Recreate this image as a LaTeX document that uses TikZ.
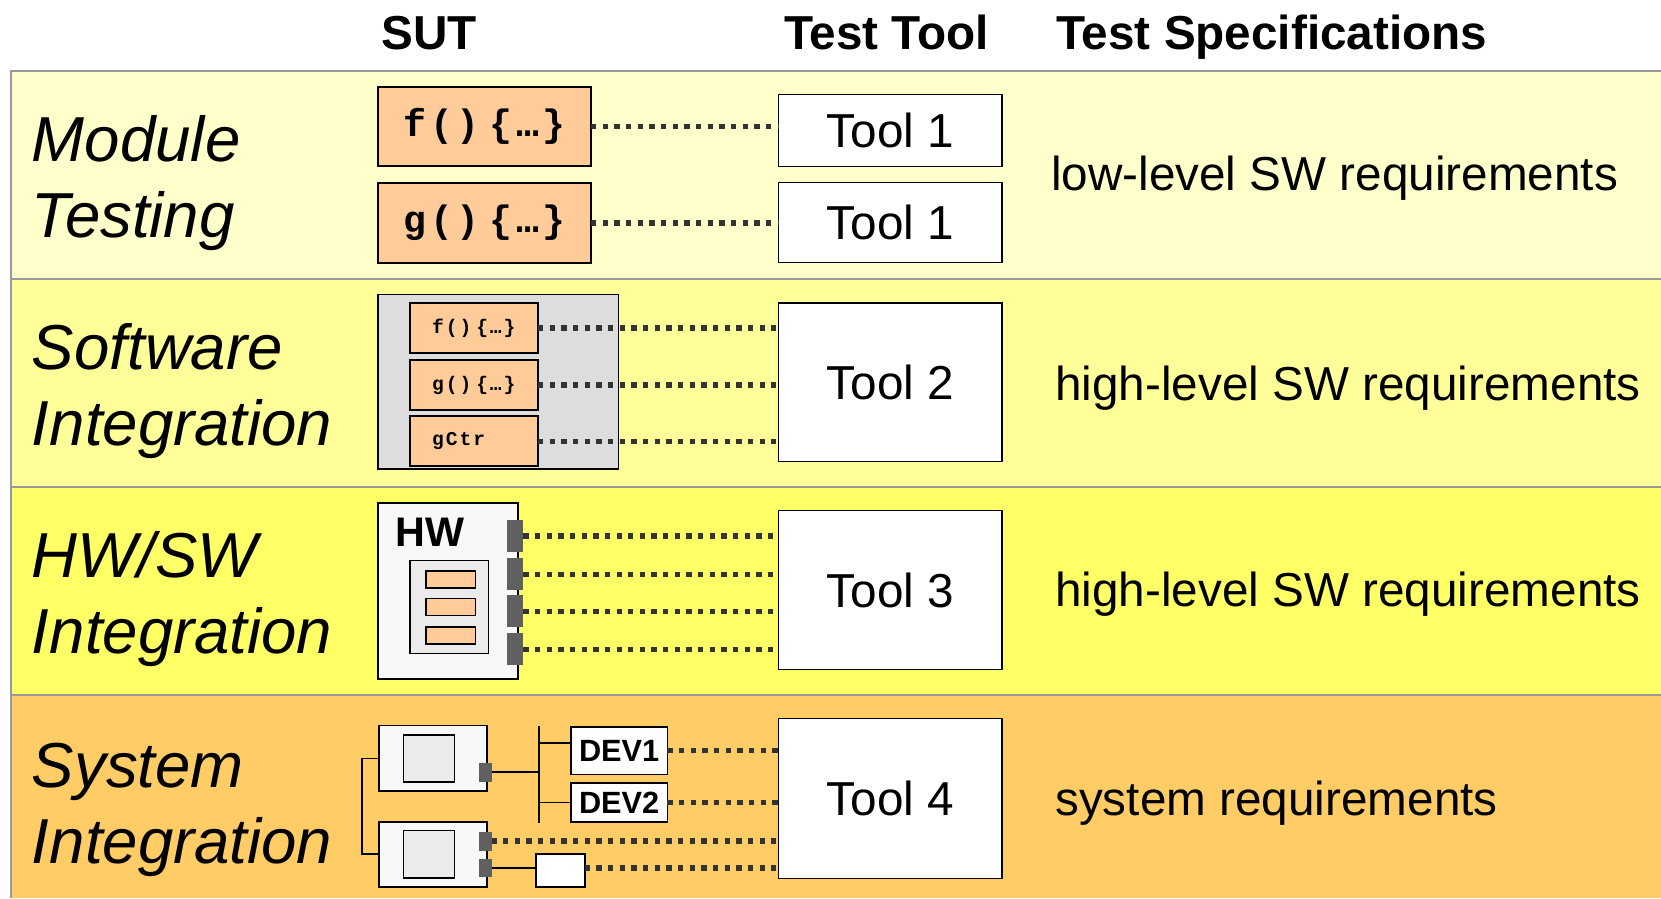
\documentclass[tikz,border=0pt]{standalone}
\usepackage{fontspec}
\setmainfont{Liberation Sans}
\newfontfamily\codefont[LetterSpace=10]{Liberation Mono}
\usetikzlibrary{positioning}
\definecolor{bandA}{HTML}{FFFFCC}
\definecolor{bandB}{HTML}{FFFF99}
\definecolor{bandC}{HTML}{FFFF66}
\definecolor{bandD}{HTML}{FFCC66}
\definecolor{codefill}{HTML}{FFCC99}
\definecolor{grpfill}{HTML}{DDDDDD}
\definecolor{hwfill}{HTML}{F8F8F8}
\definecolor{chipfill}{HTML}{EBEBEB}
\definecolor{portgray}{HTML}{606060}
\definecolor{dotgray}{HTML}{333333}
\definecolor{sepgray}{HTML}{999999}
\def\fbody{f()\kern.25em\{…\}}
\def\gbody{g()\kern.25em\{…\}}

\tikzset{
  head/.style={font=\fontsize{45}{54}\selectfont\bfseries, inner sep=0pt},
  level/.style={font=\fontsize{60}{72}\selectfont\itshape, inner sep=0pt, anchor=base west},
  req/.style={font=\fontsize{45}{54}\selectfont, inner sep=0pt, anchor=base west},
  box/.style={draw, line width=1.6pt, inner sep=0pt, outer sep=0pt, anchor=north west},
  codebox/.style={box, fill=codefill, minimum width=201pt, minimum height=75pt, font=\fontsize{36}{44}\selectfont\codefont\bfseries},
  smallcode/.style={box, fill=codefill, minimum height=47pt, text width=79pt, align=left, inner xsep=21pt, font=\fontsize{18.5}{23}\selectfont\codefont\bfseries},
  toolbox/.style={box, line width=1.2pt, fill=white, minimum width=211pt, font=\fontsize{45}{54}\selectfont},
  devbox/.style={box, fill=white, minimum width=91pt, font=\fontsize{29}{35}\selectfont\bfseries},
  port/.style={fill=portgray, inner sep=0pt, outer sep=0pt, anchor=north west},
  link/.style={draw=dotgray, line width=5pt, dash pattern=on 5pt off 6pt},
  wire/.style={draw, line width=1.6pt},
  sep/.style={draw=sepgray, line width=2pt}
}

\begin{document}
\begin{tikzpicture}[x=1pt, y=-1pt]
  \useasboundingbox (0,0) rectangle (1568,848);
  \fill[white] (0,0) rectangle (1568,848);

  \fill[bandA] (10,67) rectangle (1568,263);
  \fill[bandB] (10,263) rectangle (1568,460);
  \fill[bandC] (10,460) rectangle (1568,656);
  \fill[bandD] (10,656) rectangle (1568,848);
  \draw[sep] (10,848) -- (10,67) -- (1568,67);
  \draw[sep] (10,263) -- (1568,263);
  \draw[sep] (10,460) -- (1568,460);
  \draw[sep] (10,656) -- (1568,656);

  \node[head, anchor=base] (sut) at (405,47) {SUT};
  \node[head, anchor=base west] (ttool) at (740,47) {Test Tool};
  \node[head, anchor=base west] (tspec) at (997,47) {Test Specifications};

  \node[level] (modA) at (30,152) {Module};
  \node[level] (modB) at (30,224) {Testing};
  \node[level] (swiA) at (30,349) {Software};
  \node[level] (swiB) at (30,421) {Integration};
  \node[level] (hwiA) at (30,545) {HW/SW};
  \node[level] (hwiB) at (30,617) {Integration};
  \node[level] (sysA) at (30,743) {System};
  \node[level] (sysB) at (30,815) {Integration};

  \node[codebox] (fmod) at (357,82) {\fbody};
  \node[codebox] (gmod) at (357,173) {\gbody};
  \node[toolbox, minimum height=68pt] (toolAa) at (735,89) {Tool 1};
  \node[toolbox, minimum height=76pt] (toolAb) at (735,172) {Tool 1};
  \draw[link] (fmod.east) -- (fmod.east -| toolAa.west);
  \draw[link] (gmod.east) -- (gmod.east -| toolAb.west);
  \node[req] (reqA) at (992,180) {low-level SW requirements};

  \node[box, fill=grpfill, minimum width=227pt, minimum height=165pt] (swgrp) at (357,278) {};
  \node[smallcode] (fint) at (387,286) {\fbody};
  \node[smallcode] (gint) at (387,340) {\gbody};
  \node[smallcode] (gctr) at (387,393) {gCtr};
  \node[toolbox, minimum height=150pt] (toolB) at (735,286) {Tool 2};
  \foreach \n in {fint,gint,gctr}
    \draw[link] (\n.east) -- (\n.east -| toolB.west);
  \node[req] (reqB) at (996,378) {high-level SW requirements};

  \node[box, fill=hwfill, minimum width=132pt, minimum height=166pt] (hwbox) at (357,475) {};
  \node[font=\fontsize{39}{47}\selectfont\bfseries, inner sep=0pt, anchor=base west] (hwlbl) at (373,516) {HW};
  \node[box, line width=1.2pt, fill=chipfill, minimum width=74pt, minimum height=88pt] (chip) at (387,529) {};
  \foreach \i/\y in {1/539,2/565,3/592}
    \node[box, line width=1.4pt, fill=codefill, minimum width=47pt, minimum height=16pt] (bar\i) at (402,\y) {};
  \foreach \i/\y in {1/491,2/527,3/562,4/598}
    \node[port, minimum width=15pt, minimum height=30pt] (hwp\i) at (479,\y) {};
  \node[toolbox, minimum height=150pt] (toolC) at (735,482) {Tool 3};
  \foreach \i in {1,...,4}
    \draw[link] (hwp\i.east) -- (hwp\i.east -| toolC.west);
  \node[req] (reqC) at (996,573) {high-level SW requirements};

  \node[box, fill=hwfill, minimum width=102pt, minimum height=62pt] (devA) at (358,685) {};
  \node[box, line width=1.4pt, fill=chipfill, minimum width=48pt, minimum height=44pt] (scrA) at (381,694) {};
  \node[port, minimum width=12pt, minimum height=18pt] (portA) at (452,720) {};
  \node[box, fill=hwfill, minimum width=102pt, minimum height=61pt] (devB) at (358,776) {};
  \node[box, line width=1.4pt, fill=chipfill, minimum width=48pt, minimum height=45pt] (scrB) at (381,784) {};
  \node[port, minimum width=12pt, minimum height=18pt] (portBa) at (452,785) {};
  \node[port, minimum width=12pt, minimum height=17pt] (portBb) at (452,811) {};
  \coordinate (busT) at (509,685);
  \coordinate (busB) at (509,777);
  \node[devbox, minimum height=45pt] (dev1) at (539,686) {DEV1};
  \node[devbox, minimum height=37pt] (dev2) at (539,739) {DEV2};
  \node[box, fill=white, minimum width=46pt, minimum height=31pt] (sbox) at (506,806) {};
  \node[toolbox, minimum height=151pt] (toolD) at (735,678) {Tool 4};

  \draw[wire] (devA.west) -- ++(-16,0) |- (devB.west);
  \draw[wire] (busT) -- (busB);
  \draw[wire] (portA.east) -- (portA.east -| busT);
  \draw[wire] ([yshift=7pt]dev1.west -| busT) -- ([yshift=7pt]dev1.west);
  \draw[wire] (dev2.west -| busT) -- (dev2.west);
  \draw[wire] (portBb.east) -- (portBb.east -| sbox.west);
  \draw[link] (dev1.east) -- (dev1.east -| toolD.west);
  \draw[link] (dev2.east) -- (dev2.east -| toolD.west);
  \draw[link] (portBa.east) -- (portBa.east -| toolD.west);
  \draw[link] (portBb.east -| sbox.east) -- (portBb.east -| toolD.west);
  \node[req] (reqD) at (996,770) {system requirements};
\end{tikzpicture}
\end{document}
